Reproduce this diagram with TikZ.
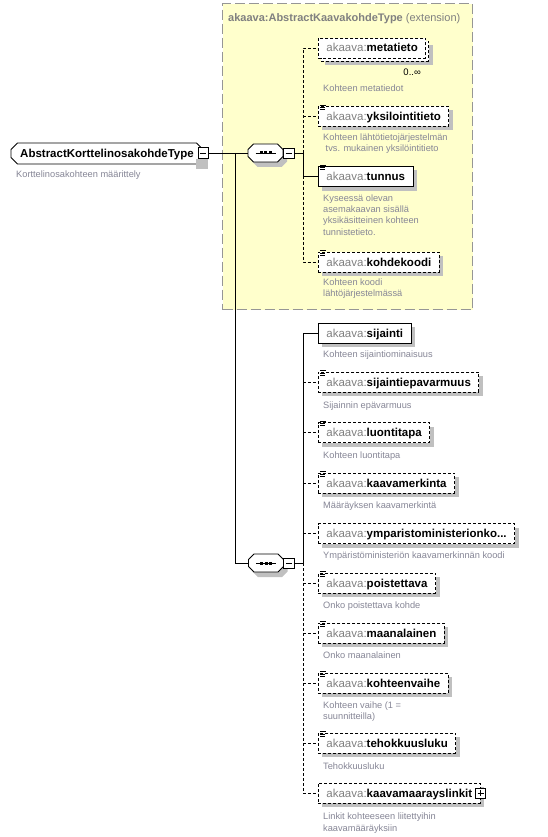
\documentclass[tikz,border=0pt]{standalone}
\usepackage{fontspec}
\setmainfont{Liberation Sans}
\usetikzlibrary{shapes.misc,calc,shadows}
\definecolor{extfill}{RGB}{255,255,204}
\definecolor{extborder}{RGB}{150,150,150}
\definecolor{pregray}{RGB}{128,128,128}
\definecolor{descgray}{RGB}{134,134,150}
\definecolor{shadowgray}{RGB}{192,192,192}
\newcommand{\pre}{\textcolor{pregray}{akaava:}}
\newcommand{\nm}[1]{\pre\textbf{#1}}
\newcommand{\docicon}[1]{\draw[line width=0.7pt] ($(#1.north west)+(2,-1)$) -- ++(6,0) ($(#1.north west)+(2,1.3)$) -- ++(5,0) ($(#1.north west)+(2,3.6)$) -- ++(4.5,0);}
\newcommand{\minussign}[1]{\draw[line width=0.8pt] ($(#1.center)+(-3,0)$) -- ($(#1.center)+(3,0)$);}
\newcommand{\octo}{++(-17.5,-3.5) -- ++(0,7) -- ++(5.5,5.5) -- ++(24,0) -- ++(5.5,-5.5) -- ++(0,-7) -- ++(-5.5,-5.5) -- ++(-24,0) -- cycle}
\newcommand{\seqsym}[1]{%
  \fill[shadowgray] ($(#1.center)+(4,5)$) \octo;
  \draw[line width=0.8pt, fill=white] (#1.center) \octo;
  \draw[line width=0.8pt] ($(#1.center)+(-10,0)$) -- ($(#1.center)+(10,0)$);
  \foreach \dx in {-4.5,0,4.5} {\fill ($(#1.center)+(\dx-1.5,-1.5)$) rectangle ++(3,3);}}
\begin{document}
\begin{tikzpicture}[x=1pt,y=-1pt,
 elem/.style={draw, fill=white, line width=0.9pt, anchor=west, inner xsep=8pt, inner ysep=0pt, minimum height=20pt, text height=8pt, text depth=0pt, font=\fontsize{11.5}{13}\selectfont},
 shad/.style={drop shadow={shadow xshift=4pt, shadow yshift=-4pt, fill=shadowgray, opacity=1}},
 opt/.style={dash pattern=on 3pt off 2pt},
 conn/.style={line width=0.9pt},
 desc/.style={anchor=north west, inner sep=0pt, align=left, font=\fontsize{9.25}{11.3}\selectfont, text=descgray},
 pmbox/.style={draw, fill=white, line width=0.8pt, minimum width=10pt, minimum height=10pt, inner sep=0pt},
 seqbox/.style={rectangle, minimum width=35pt, minimum height=18pt, inner sep=0pt},
 rootbox/.style={draw, fill=white, line width=0.9pt, chamfered rectangle, chamfered rectangle xsep=3pt, minimum width=192pt, minimum height=21pt, inner sep=0pt, text height=8pt, text depth=0pt, font=\fontsize{11.5}{13}\selectfont},
 extbox/.style={draw=extborder, fill=extfill, line width=1.1pt, dash pattern=on 10pt off 4pt, anchor=north west, minimum width=250pt, minimum height=306pt, inner sep=0pt},
]
\useasboundingbox (0,0) rectangle (548,837);
\fill[white] (0,0) rectangle (548,837);

% extension container
\node[extbox] (ext) at (222,3) {};
\node[anchor=west, inner sep=0pt, text=pregray, font=\fontsize{11}{13}\selectfont] (exttitle) at (228,18.5) {\textbf{akaava:AbstractKaavakohdeType} (extension)};

% root
\node[rootbox] (root) at (107,153.5) {\textbf{AbstractKorttelinosakohdeType}\hspace{9pt}};
\fill[shadowgray] (196,159) rectangle (207.5,169);
\node[pmbox, minimum height=11pt] (rootmin) at (203,153) {};
\minussign{rootmin}
\node[desc] (rootdesc) at (16,171) {Korttelinosakohteen määrittely};

% sequence 1
\node[seqbox] (seq1) at (265.5,153) {};
\seqsym{seq1}
\node[pmbox, minimum width=11pt] (seq1min) at (288.5,153) {};
\minussign{seq1min}
\coordinate (v1) at (303,153);

% sequence 2
\node[seqbox] (seq2) at (266,563) {};
\seqsym{seq2}
\node[pmbox, minimum width=11pt] (seq2min) at (289,563) {};
\minussign{seq2min}
\coordinate (v2) at (303,563);
\coordinate (j) at (235,153);

% children of sequence 1
\node[elem, opt, shad] (metaback) at (321,51) {\phantom{\nm{metatieto}}};
\node[elem, opt] (meta) at (318,48) {\nm{metatieto}};
\node[anchor=base east, inner sep=0pt, font=\fontsize{9.5}{11}\selectfont] (metamult) at (421,75.5) {0..∞};
\node[desc] (metadesc) at (323,84.2) {Kohteen metatiedot};

\node[elem, opt, shad] (yks) at (318,116.5) {\nm{yksilointitieto}};
\docicon{yks}
\node[desc] (yksdesc) at (323,133.2) {Kohteen lähtötietojärjestelmän\\\hspace*{2.5pt}tvs. mukainen yksilöintitieto};

\node[elem, shad] (tunnus) at (318,176.5) {\nm{tunnus}};
\docicon{tunnus}
\node[desc] (tunnusdesc) at (323,194.2) {Kyseessä olevan\\asemakaavan sisällä\\yksikäsitteinen kohteen\\tunnistetieto.};

\node[elem, opt, shad] (kohde) at (318,262) {\nm{kohdekoodi}};
\docicon{kohde}
\node[desc] (kohdedesc) at (323,278.2) {Kohteen koodi\\lähtöjärjestelmässä};

% children of sequence 2
\node[elem, shad] (sij) at (318,333) {\nm{sijainti}};
\node[desc] (sijdesc) at (323,350.2) {Kohteen sijaintiominaisuus};

\node[elem, opt, shad] (sijep) at (318,382) {\nm{sijaintiepavarmuus}};
\docicon{sijep}
\node[desc] (sijepdesc) at (323,401.2) {Sijainnin epävarmuus};

\node[elem, opt, shad] (luon) at (318,432.5) {\nm{luontitapa}};
\docicon{luon}
\node[desc] (luondesc) at (323,451.2) {Kohteen luontitapa};

\node[elem, opt, shad] (kmerk) at (318,483) {\nm{kaavamerkinta}};
\docicon{kmerk}
\node[desc] (kmerkdesc) at (323,501.2) {Määräyksen kaavamerkintä};

\node[elem, opt, shad] (ymp) at (318,533.5) {\nm{ymparistoministerionko...}};
\node[desc] (ympdesc) at (323,551.2) {Ympäristöministeriön kaavamerkinnän koodi};

\node[elem, opt, shad] (poist) at (318,583) {\nm{poistettava}};
\docicon{poist}
\node[desc] (poistdesc) at (323,601.2) {Onko poistettava kohde};

\node[elem, opt, shad] (maan) at (318,633) {\nm{maanalainen}};
\docicon{maan}
\node[desc] (maandesc) at (323,651.2) {Onko maanalainen};

\node[elem, opt, shad] (vaihe) at (318,683) {\nm{kohteenvaihe}};
\docicon{vaihe}
\node[desc] (vaihedesc) at (323,701.2) {Kohteen vaihe (1 =\\suunnitteilla)};

\node[elem, opt, shad] (teho) at (318,743) {\nm{tehokkuusluku}};
\docicon{teho}
\node[desc] (tehodesc) at (323,762.2) {Tehokkuusluku};

\node[elem, opt, shad] (linkit) at (318,793) {\nm{kaavamaarayslinkit}\hspace{4pt}};
\node[pmbox] (linkitplus) at (linkit.east) {};
\draw[line width=0.8pt] ($(linkitplus.center)+(-3,0)$) -- ($(linkitplus.center)+(3,0)$) ($(linkitplus.center)+(0,-3)$) -- ($(linkitplus.center)+(0,3)$);
\node[desc] (linkitdesc) at (323,813) {Linkit kohteeseen liitettyihin\\kaavamääräyksiin};

% connectors
\draw[conn] (rootmin.east) -- (seq1.west);
\draw[conn] (j) |- (seq2.west);
\draw[conn] (seq1min.east) -- (v1);
\draw[conn,opt] (v1) -- (v1 |- meta.west) -- (meta.west);
\draw[conn,opt] (v1 |- yks.west) -- (yks.west);
\draw[conn] (v1) -- (v1 |- tunnus.west) -- (tunnus.west);
\draw[conn,opt] (v1 |- tunnus.west) -- (v1 |- kohde.west) -- (kohde.west);

\draw[conn] (seq2min.east) -- (v2);
\draw[conn] (v2) -- (v2 |- sij.west) -- (sij.west);
\draw[conn,opt] (v2 |- sijep.west) -- (sijep.west);
\draw[conn,opt] (v2 |- luon.west) -- (luon.west);
\draw[conn,opt] (v2 |- kmerk.west) -- (kmerk.west);
\draw[conn,opt] (v2 |- ymp.west) -- (ymp.west);
\draw[conn,opt] (v2) -- (v2 |- linkit.west) -- (linkit.west);
\draw[conn,opt] (v2 |- poist.west) -- (poist.west);
\draw[conn,opt] (v2 |- maan.west) -- (maan.west);
\draw[conn,opt] (v2 |- vaihe.west) -- (vaihe.west);
\draw[conn,opt] (v2 |- teho.west) -- (teho.west);
\end{tikzpicture}
\end{document}
